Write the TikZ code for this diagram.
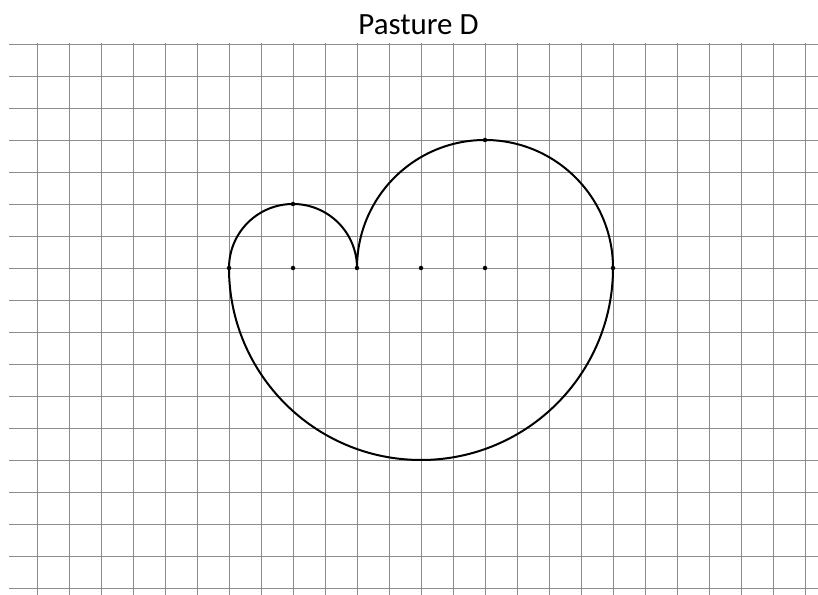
\documentclass[tikz,border=0pt]{standalone}
\usepackage{fontspec}
\setmainfont{Carlito}
\usepackage{xcolor}
\usepackage{tikz}
\definecolor{gridgray}{RGB}{140,140,140}
\definecolor{ink}{RGB}{0,0,0}

\begin{document}
\begin{tikzpicture}[x=1bp, y=1bp,
  gridline/.style={draw=gridgray, line width=0.9bp},
  dot/.style={circle, fill=ink, inner sep=0pt, minimum size=4.5bp},
  outline/.style={draw=ink, line width=2bp}]
  \useasboundingbox (0,0) rectangle (818,595);
  \fill[white] (0,0) rectangle (818,595);
  % grid
  \foreach \k in {0,...,17}
    \draw[gridline] (9,{551-32*\k}) -- (818,{551-32*\k});
  \foreach \k in {0,...,24}
    \draw[gridline] ({37+32*\k},0) -- ({37+32*\k},552);
  % title
  \node[anchor=base, text=ink, font=\fontsize{31}{34}\selectfont] (title) at (418.5,560) {Pasture D};
  % marked points
  \node[dot] (left) at (229,327) {};
  \node[dot] (smallc) at (293,327) {};
  \node[dot] (cusp) at (357,327) {};
  \node[dot] (lowc) at (421,327) {};
  \node[dot] (bigc) at (485,327) {};
  \node[dot] (right) at (613,327) {};
  \node[dot] (smalltop) at (293,391) {};
  \node[dot] (bigtop) at (485,455) {};
  % boundary
  \draw[outline] (left.center) arc[start angle=180, end angle=0, radius=64]
    arc[start angle=180, end angle=0, radius=128]
    arc[start angle=0, end angle=-180, radius=192];
\end{tikzpicture}
\end{document}
